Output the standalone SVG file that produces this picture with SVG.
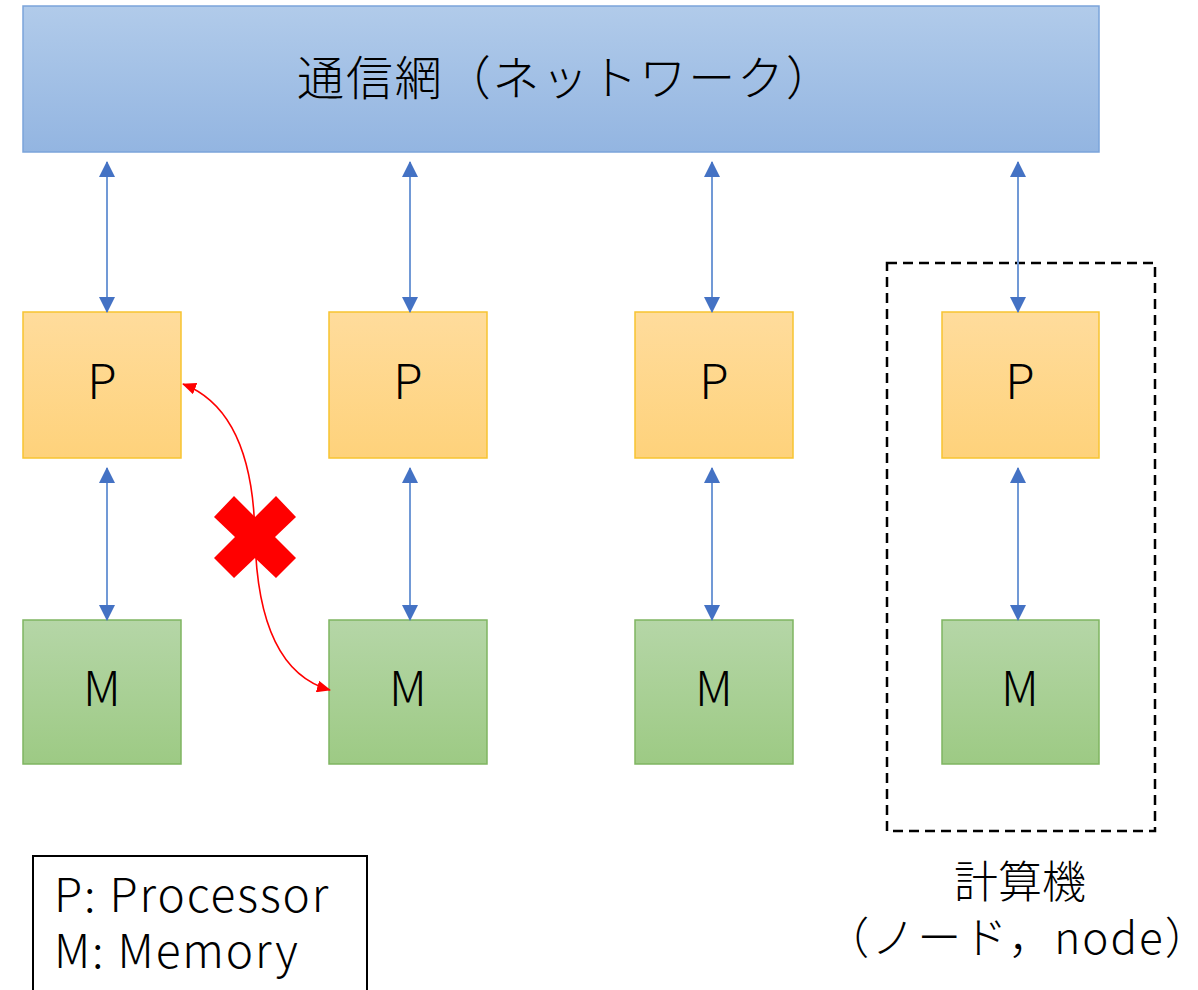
<svg xmlns="http://www.w3.org/2000/svg" width="1198" height="990" viewBox="0 0 1198 990">
<style>
text{font-family:"Noto Sans CJK JP","Noto Sans",sans-serif;fill:#000;font-weight:300}
.net{fill:url(#gNet);stroke:#7ba4da;stroke-width:1.5}
.p{fill:url(#gP);stroke:#f7c431;stroke-width:1.5}
.m{fill:url(#gM);stroke:#7fb561;stroke-width:1.5}
.lbl{font-size:48px;text-anchor:middle}
.blue{stroke:#7199d6;stroke-width:2;fill:none;marker-start:url(#bh);marker-end:url(#bh)}
.red{stroke:#ff0000;stroke-width:1.6;fill:none;marker-start:url(#rh);marker-end:url(#rh)}
.leg{font-size:46px;letter-spacing:1.9px}
.nl{font-size:44px;text-anchor:middle}
</style>
<defs>
<linearGradient id="gNet" x1="0" y1="0" x2="0" y2="1"><stop offset="0" stop-color="#b1cbea"/><stop offset="1" stop-color="#93b5e1"/></linearGradient>
<linearGradient id="gP" x1="0" y1="0" x2="0" y2="1"><stop offset="0" stop-color="#ffdc9c"/><stop offset="1" stop-color="#fed27b"/></linearGradient>
<linearGradient id="gM" x1="0" y1="0" x2="0" y2="1"><stop offset="0" stop-color="#b5d6a7"/><stop offset="1" stop-color="#9dca84"/></linearGradient>
<marker id="bh" viewBox="0 0 16 16" refX="15" refY="8" markerWidth="16" markerHeight="16" markerUnits="userSpaceOnUse" orient="auto-start-reverse"><path d="M0,0 L16,8 L0,16 Z" fill="#4472c4"/></marker>
<marker id="rh" viewBox="0 0 14 12" refX="13" refY="6" markerWidth="14" markerHeight="12" markerUnits="userSpaceOnUse" orient="auto-start-reverse"><path d="M0,0 L14,6 L0,12 Z" fill="#ff0000"/></marker>
</defs>
<rect x="0" y="0" width="1198" height="990" fill="#fff"/>

<g id="network"><rect class="net" x="23" y="6" width="1076" height="146"/><text x="297" y="95" style="font-size:47px;letter-spacing:1.9px">通信網（ネットワーク）</text></g>

<g id="node-box"><rect x="887" y="263" width="268" height="568" fill="none" stroke="#000" stroke-width="2.5" stroke-dasharray="10 6"/></g>

<g id="p1"><rect class="p" x="23" y="312" width="158" height="146"/><text class="lbl" x="102" y="399">P</text></g>
<g id="p2"><rect class="p" x="329" y="312" width="158" height="146"/><text class="lbl" x="408" y="399">P</text></g>
<g id="p3"><rect class="p" x="635" y="312" width="158" height="146"/><text class="lbl" x="714" y="399">P</text></g>
<g id="p4"><rect class="p" x="942" y="312" width="157" height="146"/><text class="lbl" x="1020" y="399">P</text></g>

<g id="m1"><rect class="m" x="23" y="620" width="158" height="144"/><text class="lbl" x="102" y="706">M</text></g>
<g id="m2"><rect class="m" x="329" y="620" width="158" height="144"/><text class="lbl" x="408" y="706">M</text></g>
<g id="m3"><rect class="m" x="635" y="620" width="158" height="144"/><text class="lbl" x="714" y="706">M</text></g>
<g id="m4"><rect class="m" x="942" y="620" width="157" height="144"/><text class="lbl" x="1020" y="706">M</text></g>

<g id="connectors">
<line class="blue" x1="107" y1="162" x2="107" y2="312"/>
<line class="blue" x1="410" y1="162" x2="410" y2="312"/>
<line class="blue" x1="712" y1="162" x2="712" y2="312"/>
<line class="blue" x1="1018" y1="162" x2="1018" y2="312"/>
<line class="blue" x1="107" y1="468" x2="107" y2="620"/>
<line class="blue" x1="410" y1="468" x2="410" y2="620"/>
<line class="blue" x1="712" y1="468" x2="712" y2="620"/>
<line class="blue" x1="1018" y1="468" x2="1018" y2="620"/>
<path class="red" d="M183,384 Q253,411 255,537 Q258,670 330,690"/>
</g>

<g id="cross"><polygon fill="#ff0000" points="214,517 234,496 255,517 276,496 296,517 275,537 296,558 276,578 255,558 234,578 214,558 235,537"/></g>

<g id="legend"><rect x="33" y="856" width="334" height="150" fill="#fff" stroke="#000" stroke-width="2"/>
<text class="leg" x="54" y="912">P: Processor</text>
<text class="leg" x="54" y="968">M: Memory</text></g>

<g id="node-label"><text class="nl" x="1020" y="898">計算機</text>
<text class="nl" x="1018" y="954" letter-spacing="2">（ノード，node）</text></g>
</svg>
